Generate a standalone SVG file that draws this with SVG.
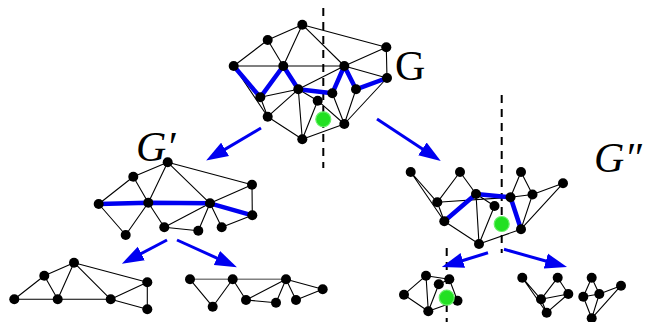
<svg xmlns="http://www.w3.org/2000/svg" width="649" height="322" viewBox="0 0 649 322">
<style>
.e{stroke:#000;stroke-width:1.1;fill:none}
.g{stroke:#808080;stroke-width:1.6;fill:none}
.p{stroke:#0000f0;stroke-width:4.5;fill:none;stroke-linejoin:round}
.n{fill:#000}
.gr{fill:#22e022;stroke:#66f066;stroke-width:1.2}
.d{stroke:#000;stroke-width:2;stroke-dasharray:8,6;fill:none}
.a{stroke:#0000f0;stroke-width:3;fill:none}
.lbl{font-family:"Liberation Serif",serif;font-size:42px;fill:#000}
</style>
<defs>
<marker id="ah" markerUnits="userSpaceOnUse" markerWidth="22" markerHeight="16" viewBox="0 0 20 14" refX="10" refY="7" orient="auto">
<path d="M0,0 L20,7 L0,14 z" fill="#0000f0"/>
</marker>
</defs>

<g id="G">
<line class="d" x1="323.3" y1="8" x2="323.3" y2="168"/>
<path class="e" d="M302.3,24.7L267.7,40M302.3,24.7L283.3,66M302.3,24.7L344.3,66M302.3,24.7L386.3,47.3M267.7,40L233.7,66M267.7,40L283.3,66M233.7,66L344.3,66M386.3,47.3L387,78M298.3,89.3L344.3,66M344.3,66L386.3,47.3M344.3,66L387,78M233.7,66L260.3,97.3M233.7,66L267.7,116.7M260.3,97.3L267.7,116.7M260.3,97.3L298.3,89.3M267.7,116.7L298.3,89.3M267.7,116.7L302.3,139.3M298.3,89.3L302.3,139.3M298.3,89.3L317.7,100.7M317.7,100.7L302.3,139.3M317.7,100.7L344.3,124M332.3,93.3L344.3,124M356,89.3L344.3,124M387,78L344.3,124M302.3,139.3L344.3,124"/>
<path class="p" d="M233.7,66L260.3,97.3L283.3,66L298.3,89.3L332.3,93.3L344.3,66L356,89.3L387,78"/>
<g class="n">
<circle cx="302.3" cy="24.7" r="5"/><circle cx="267.7" cy="40" r="5"/><circle cx="386.3" cy="47.3" r="5"/><circle cx="233.7" cy="66" r="5"/><circle cx="283.3" cy="66" r="5"/><circle cx="344.3" cy="66" r="5"/><circle cx="387" cy="78" r="5"/><circle cx="260.3" cy="97.3" r="5"/><circle cx="298.3" cy="89.3" r="5"/><circle cx="332.3" cy="93.3" r="5"/><circle cx="356" cy="89.3" r="5"/><circle cx="317.7" cy="100.7" r="5"/><circle cx="267.7" cy="116.7" r="5"/><circle cx="344.3" cy="124" r="5"/><circle cx="302.3" cy="139.3" r="5"/>
</g>
<circle class="gr" cx="323.3" cy="119.3" r="7.5"/>
<text class="lbl" x="395" y="80">G</text>
</g>

<g id="Gp">
<path class="e" d="M167.7,162.3L133.3,176.7M167.7,162.3L148.3,202.7M167.7,162.3L210,203.3M167.7,162.3L252,184.7M133.3,176.7L98.7,204M133.3,176.7L148.3,202.7M252,184.7L252.3,215.3M252,184.7L210,203.3M164.3,227.3L210,203.3M98.7,204L125.7,235M125.7,235L148.3,202.7M148.3,202.7L164.3,227.3M164.3,227.3L198.3,230.7M198.3,230.7L210,203.3M210,203.3L221.7,227.3M221.7,227.3L252.3,215.3"/>
<path class="p" d="M98.7,204L148.3,202.7L210,203.3L252.3,215.3"/>
<g class="n">
<circle cx="167.7" cy="162.3" r="5"/><circle cx="133.3" cy="176.7" r="5"/><circle cx="252" cy="184.7" r="5"/><circle cx="98.7" cy="204" r="5"/><circle cx="148.3" cy="202.7" r="5"/><circle cx="210" cy="203.3" r="5"/><circle cx="252.3" cy="215.3" r="5"/><circle cx="125.7" cy="235" r="5"/><circle cx="164.3" cy="227.3" r="5"/><circle cx="198.3" cy="230.7" r="5"/><circle cx="221.7" cy="227.3" r="5"/>
</g>
<text class="lbl" x="136" y="161" font-style="italic">G′</text>
</g>

<g id="Gpp">
<line class="d" x1="501.7" y1="95" x2="501.7" y2="253"/>
<path class="e" d="M410.7,172L437.3,202.3M410.7,172L444.3,221.3M460,172L437.3,202.3M460,172L476,194M521,172L510.5,197.3M521,172L532.5,194.5M563,183.3L532.5,194.5M563,183.3L521,229.2M437.3,202.3L510.5,197.3M510.5,197.3L532.5,194.5M437.3,202.3L444.3,221.3M444.3,221.3L479,244M479,244L521,229.2M476,194L479,244M476,194L494.5,206M494.5,206L479,244M532.5,194.5L521,229.2"/>
<path class="p" d="M444.3,221.3L476,194L510.5,197.3L521,229.2"/>
<g class="n">
<circle cx="410.7" cy="172" r="5"/><circle cx="460" cy="172" r="5"/><circle cx="521" cy="172" r="5"/><circle cx="563" cy="183.3" r="5"/><circle cx="437.3" cy="202.3" r="5"/><circle cx="476" cy="194" r="5"/><circle cx="510.5" cy="197.3" r="5"/><circle cx="532.5" cy="194.5" r="5"/><circle cx="494.5" cy="206" r="5"/><circle cx="444.3" cy="221.3" r="5"/><circle cx="521" cy="229.2" r="5"/><circle cx="479" cy="244" r="5"/>
</g>
<circle class="gr" cx="501.7" cy="224" r="7.5"/>
<text class="lbl" x="594" y="172" font-style="italic">G″</text>
</g>

<g id="G1">
<path class="e" d="M74,262.7L44.3,275.7M74,262.7L57.7,299.3M74,262.7L110.7,299.3M74,262.7L147.3,282.3M44.3,275.7L14.3,299.3M44.3,275.7L57.7,299.3M14.3,299.3L110.7,299.3M110.7,299.3L147.3,282.3M110.7,299.3L147.3,309.3M147.3,282.3L147.3,309.3"/>
<g class="n">
<circle cx="74" cy="262.7" r="5"/><circle cx="44.3" cy="275.7" r="5"/><circle cx="147.3" cy="282.3" r="5"/><circle cx="14.3" cy="299.3" r="5"/><circle cx="57.7" cy="299.3" r="5"/><circle cx="110.7" cy="299.3" r="5"/><circle cx="147.3" cy="309.3" r="5"/>
</g>
</g>

<g id="G2">
<path class="g" d="M190,279.3L286,279.3"/>
<path class="e" d="M190,279.3L212.7,306.7M212.7,306.7L232.7,279.3M232.7,279.3L246,300M246,300L286,279.3M246,300L276,302.7M276,302.7L286,279.3M286,279.3L296,300M296,300L322.7,289.3M286,279.3L322.7,289.3"/>
<g class="n">
<circle cx="190" cy="279.3" r="5"/><circle cx="232.7" cy="279.3" r="5"/><circle cx="286" cy="279.3" r="5"/><circle cx="322.7" cy="289.3" r="5"/><circle cx="212.7" cy="306.7" r="5"/><circle cx="246" cy="300" r="5"/><circle cx="276" cy="302.7" r="5"/><circle cx="296" cy="300" r="5"/>
</g>
</g>

<g id="G3">
<line class="d" x1="446.7" y1="248" x2="446.7" y2="322"/>
<path class="e" d="M426,275.7L404,294.7M404,294.7L428.3,311.3M426,275.7L428.3,311.3M426,275.7L449.3,279.2M438.8,284.3L428.3,311.3M438.8,284.3L449.3,279.2M449.3,279.2L457.5,300.7M428.3,311.3L457.5,300.7"/>
<g class="n">
<circle cx="426" cy="275.7" r="5"/><circle cx="438.8" cy="284.3" r="5"/><circle cx="449.3" cy="279.2" r="5"/><circle cx="404" cy="294.7" r="5"/><circle cx="457.5" cy="300.7" r="5"/><circle cx="428.3" cy="311.3" r="5"/>
</g>
<circle class="gr" cx="446.7" cy="297.7" r="7.5"/>
</g>

<g id="G4">
<path class="e" d="M522.3,277.7L541,299.3M522.3,277.7L546.7,312.7M557.7,277.7L541,299.3M557.7,277.7L568.3,294M541,299.3L568.3,294M568.3,294L546.7,312.7M541,299.3L546.7,312.7"/>
<g class="n">
<circle cx="522.3" cy="277.7" r="5"/><circle cx="557.7" cy="277.7" r="5"/><circle cx="568.3" cy="294" r="5"/><circle cx="541" cy="299.3" r="5"/><circle cx="546.7" cy="312.7" r="5"/>
</g>
</g>

<g id="G5">
<path class="e" d="M591.7,277.7L583.3,296.7M591.7,277.7L599.3,294M583.3,296.7L599.3,294M583.3,296.7L591.7,318.3M599.3,294L591.7,318.3M599.3,294L621,285.7M621,285.7L591.7,318.3"/>
<g class="n">
<circle cx="591.7" cy="277.7" r="5"/><circle cx="621" cy="285.7" r="5"/><circle cx="583.3" cy="296.7" r="5"/><circle cx="599.3" cy="294" r="5"/><circle cx="591.7" cy="318.3" r="5"/>
</g>
</g>

<g id="connectors">
<line class="a" x1="261" y1="128" x2="215.6" y2="154.9" marker-end="url(#ah)"/>
<line class="a" x1="377" y1="119" x2="431.6" y2="155" marker-end="url(#ah)"/>
<line class="a" x1="167" y1="240" x2="131.6" y2="258.6" marker-end="url(#ah)"/>
<line class="a" x1="177" y1="240" x2="226.9" y2="262.6" marker-end="url(#ah)"/>
<line class="a" x1="488" y1="252.7" x2="452.3" y2="263.7" marker-end="url(#ah)"/>
<line class="a" x1="504" y1="249.3" x2="556.4" y2="264" marker-end="url(#ah)"/>
</g>
</svg>
